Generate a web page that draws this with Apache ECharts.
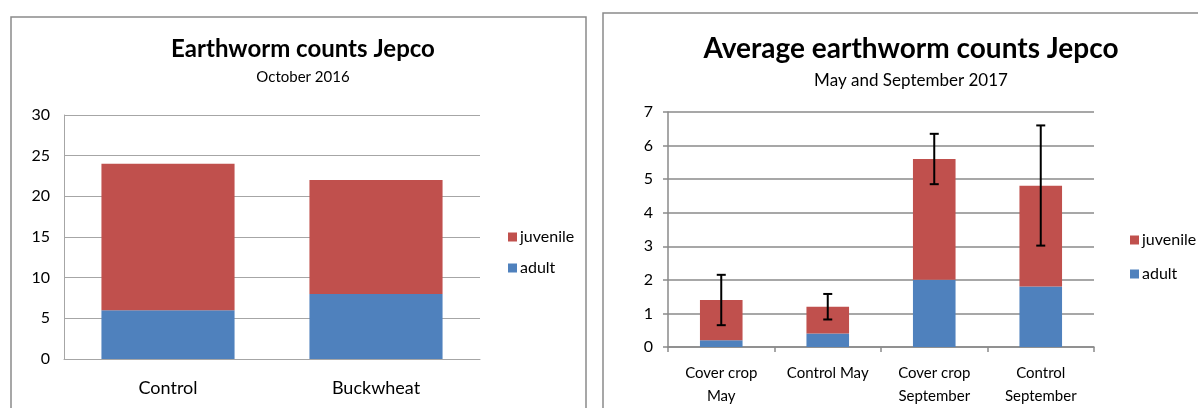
<!DOCTYPE html>
<html>
<head>
<meta charset="utf-8">
<script src="https://cdn.jsdelivr.net/npm/echarts@6/dist/echarts.min.js"></script>
<style>
html,body{margin:0;padding:0;background:#fff;}
#c{width:1198px;height:408px;}
</style>
</head>
<body>
<div id="c"></div>
<script>
// ---- Left chart data (October 2016) ----
var leftCategories = ['Control', 'Buckwheat'];
var leftAdult = [6, 8];
var leftJuvenile = [18, 14];
var leftTicks = [0, 5, 10, 15, 20, 25, 30];

// ---- Right chart data (May and September 2017) ----
var rightCategories = ['Cover crop\nMay', 'Control May', 'Cover crop\nSeptember', 'Control\nSeptember'];
var rightAdult = [0.2, 0.4, 2.0, 1.8];
var rightJuvenile = [1.2, 0.8, 3.6, 3.0];
var rightErrLow = [0.65, 0.82, 4.85, 3.02];
var rightErrHigh = [2.15, 1.58, 6.35, 6.6];
var rightTicks = [0, 1, 2, 3, 4, 5, 6, 7];

var RED = '#C0504D', BLUE = '#4F81BD';
var FONT = 'Lato';

var chart = echarts.init(document.getElementById('c'));

var errData = rightCategories.map(function (c, i) { return [i, rightErrLow[i], rightErrHigh[i]]; });

chart.setOption({
  animation: false,
  textStyle: { fontFamily: FONT, color: '#000' },
  graphic: [
    { type: 'rect', shape: { x: 11, y: 17, width: 575, height: 420 }, style: { fill: 'none', stroke: '#8a8a8a', lineWidth: 1.5 }, z: -1 },
    { type: 'rect', shape: { x: 603, y: 13, width: 620, height: 420 }, style: { fill: 'none', stroke: '#8a8a8a', lineWidth: 1.5 }, z: -1 }
  ],
  title: [
    {
      text: 'Earthworm counts Jepco', subtext: 'October 2016',
      left: 298, top: 32, textAlign: 'center', itemGap: 9,
      textStyle: { fontFamily: FONT, fontWeight: 'bold', fontSize: 24, color: '#000' },
      subtextStyle: { fontFamily: FONT, fontSize: 15, color: '#000' }
    },
    {
      text: 'Average earthworm counts Jepco', subtext: 'May and September 2017',
      left: 906, top: 30, textAlign: 'center', itemGap: 9,
      textStyle: { fontFamily: FONT, fontWeight: 'bold', fontSize: 28, color: '#000' },
      subtextStyle: { fontFamily: FONT, fontSize: 17, color: '#000' }
    }
  ],
  legend: [
    {
      orient: 'vertical', left: 503, top: 224, itemGap: 15,
      itemWidth: 9, itemHeight: 9, icon: 'rect',
      data: ['juvenile', 'adult'],
      textStyle: { fontFamily: FONT, fontSize: 16, color: '#000', padding: [0, 0, 0, -2] }
    },
    {
      orient: 'vertical', left: 1125, top: 227, itemGap: 18,
      itemWidth: 9, itemHeight: 9, icon: 'rect',
      data: ['juvenile ', 'adult '],
      textStyle: { fontFamily: FONT, fontSize: 16, color: '#000', padding: [0, 0, 0, -2] }
    }
  ],
  grid: [
    { left: 64, right: 718, top: 115, bottom: 49 },
    { left: 668, right: 104, top: 112, bottom: 61 }
  ],
  xAxis: [
    {
      gridIndex: 0, type: 'category', data: leftCategories,
      axisLine: { lineStyle: { color: '#a6a6a6', width: 1 } },
      axisTick: { show: false },
      axisLabel: { fontFamily: FONT, fontSize: 18, color: '#000', margin: 20 }
    },
    {
      gridIndex: 1, type: 'category', data: rightCategories,
      axisLine: { lineStyle: { color: '#8a8a8a', width: 1.5 } },
      axisTick: { show: true, length: 5, lineStyle: { color: '#8a8a8a', width: 1.5 } },
      axisLabel: { fontFamily: FONT, fontSize: 15, color: '#000', margin: 15, lineHeight: 23 }
    }
  ],
  yAxis: [
    {
      gridIndex: 0, type: 'value', min: leftTicks[0], max: leftTicks[leftTicks.length - 1], interval: leftTicks[1] - leftTicks[0],
      axisLine: { show: true, lineStyle: { color: '#a6a6a6', width: 1 } },
      axisTick: { show: false },
      splitLine: { lineStyle: { color: '#a6a6a6', width: 1 } },
      axisLabel: { fontFamily: FONT, fontSize: 16, color: '#000', margin: 14 }
    },
    {
      gridIndex: 1, type: 'value', min: rightTicks[0], max: rightTicks[rightTicks.length - 1], interval: rightTicks[1] - rightTicks[0],
      axisLine: { show: true, lineStyle: { color: '#8a8a8a', width: 1.5 } },
      axisTick: { show: true, length: 5, lineStyle: { color: '#8a8a8a', width: 1.5 } },
      splitLine: { lineStyle: { color: '#8a8a8a', width: 1.5 } },
      axisLabel: { fontFamily: FONT, fontSize: 16, color: '#000', margin: 15 }
    }
  ],
  series: [
    { name: 'adult', type: 'bar', xAxisIndex: 0, yAxisIndex: 0, stack: 'L', barWidth: '64%', data: leftAdult, itemStyle: { color: BLUE } },
    { name: 'juvenile', type: 'bar', xAxisIndex: 0, yAxisIndex: 0, stack: 'L', data: leftJuvenile, itemStyle: { color: RED } },
    { name: 'adult ', type: 'bar', xAxisIndex: 1, yAxisIndex: 1, stack: 'R', barWidth: '40%', data: rightAdult, itemStyle: { color: BLUE } },
    { name: 'juvenile ', type: 'bar', xAxisIndex: 1, yAxisIndex: 1, stack: 'R', data: rightJuvenile, itemStyle: { color: RED } },
    {
      name: 'error', type: 'custom', xAxisIndex: 1, yAxisIndex: 1, z: 10,
      data: errData,
      encode: { x: 0, y: [1, 2] },
      renderItem: function (params, api) {
        var x = api.value(0);
        var lo = api.coord([x, api.value(1)]);
        var hi = api.coord([x, api.value(2)]);
        var cap = 4.5;
        var st = { stroke: '#000', lineWidth: 2, fill: 'none' };
        return {
          type: 'group',
          children: [
            { type: 'line', shape: { x1: hi[0], y1: hi[1], x2: lo[0], y2: lo[1] }, style: st },
            { type: 'line', shape: { x1: hi[0] - cap, y1: hi[1], x2: hi[0] + cap, y2: hi[1] }, style: st },
            { type: 'line', shape: { x1: lo[0] - cap, y1: lo[1], x2: lo[0] + cap, y2: lo[1] }, style: st }
          ]
        };
      }
    }
  ]
});
</script>
</body>
</html>
